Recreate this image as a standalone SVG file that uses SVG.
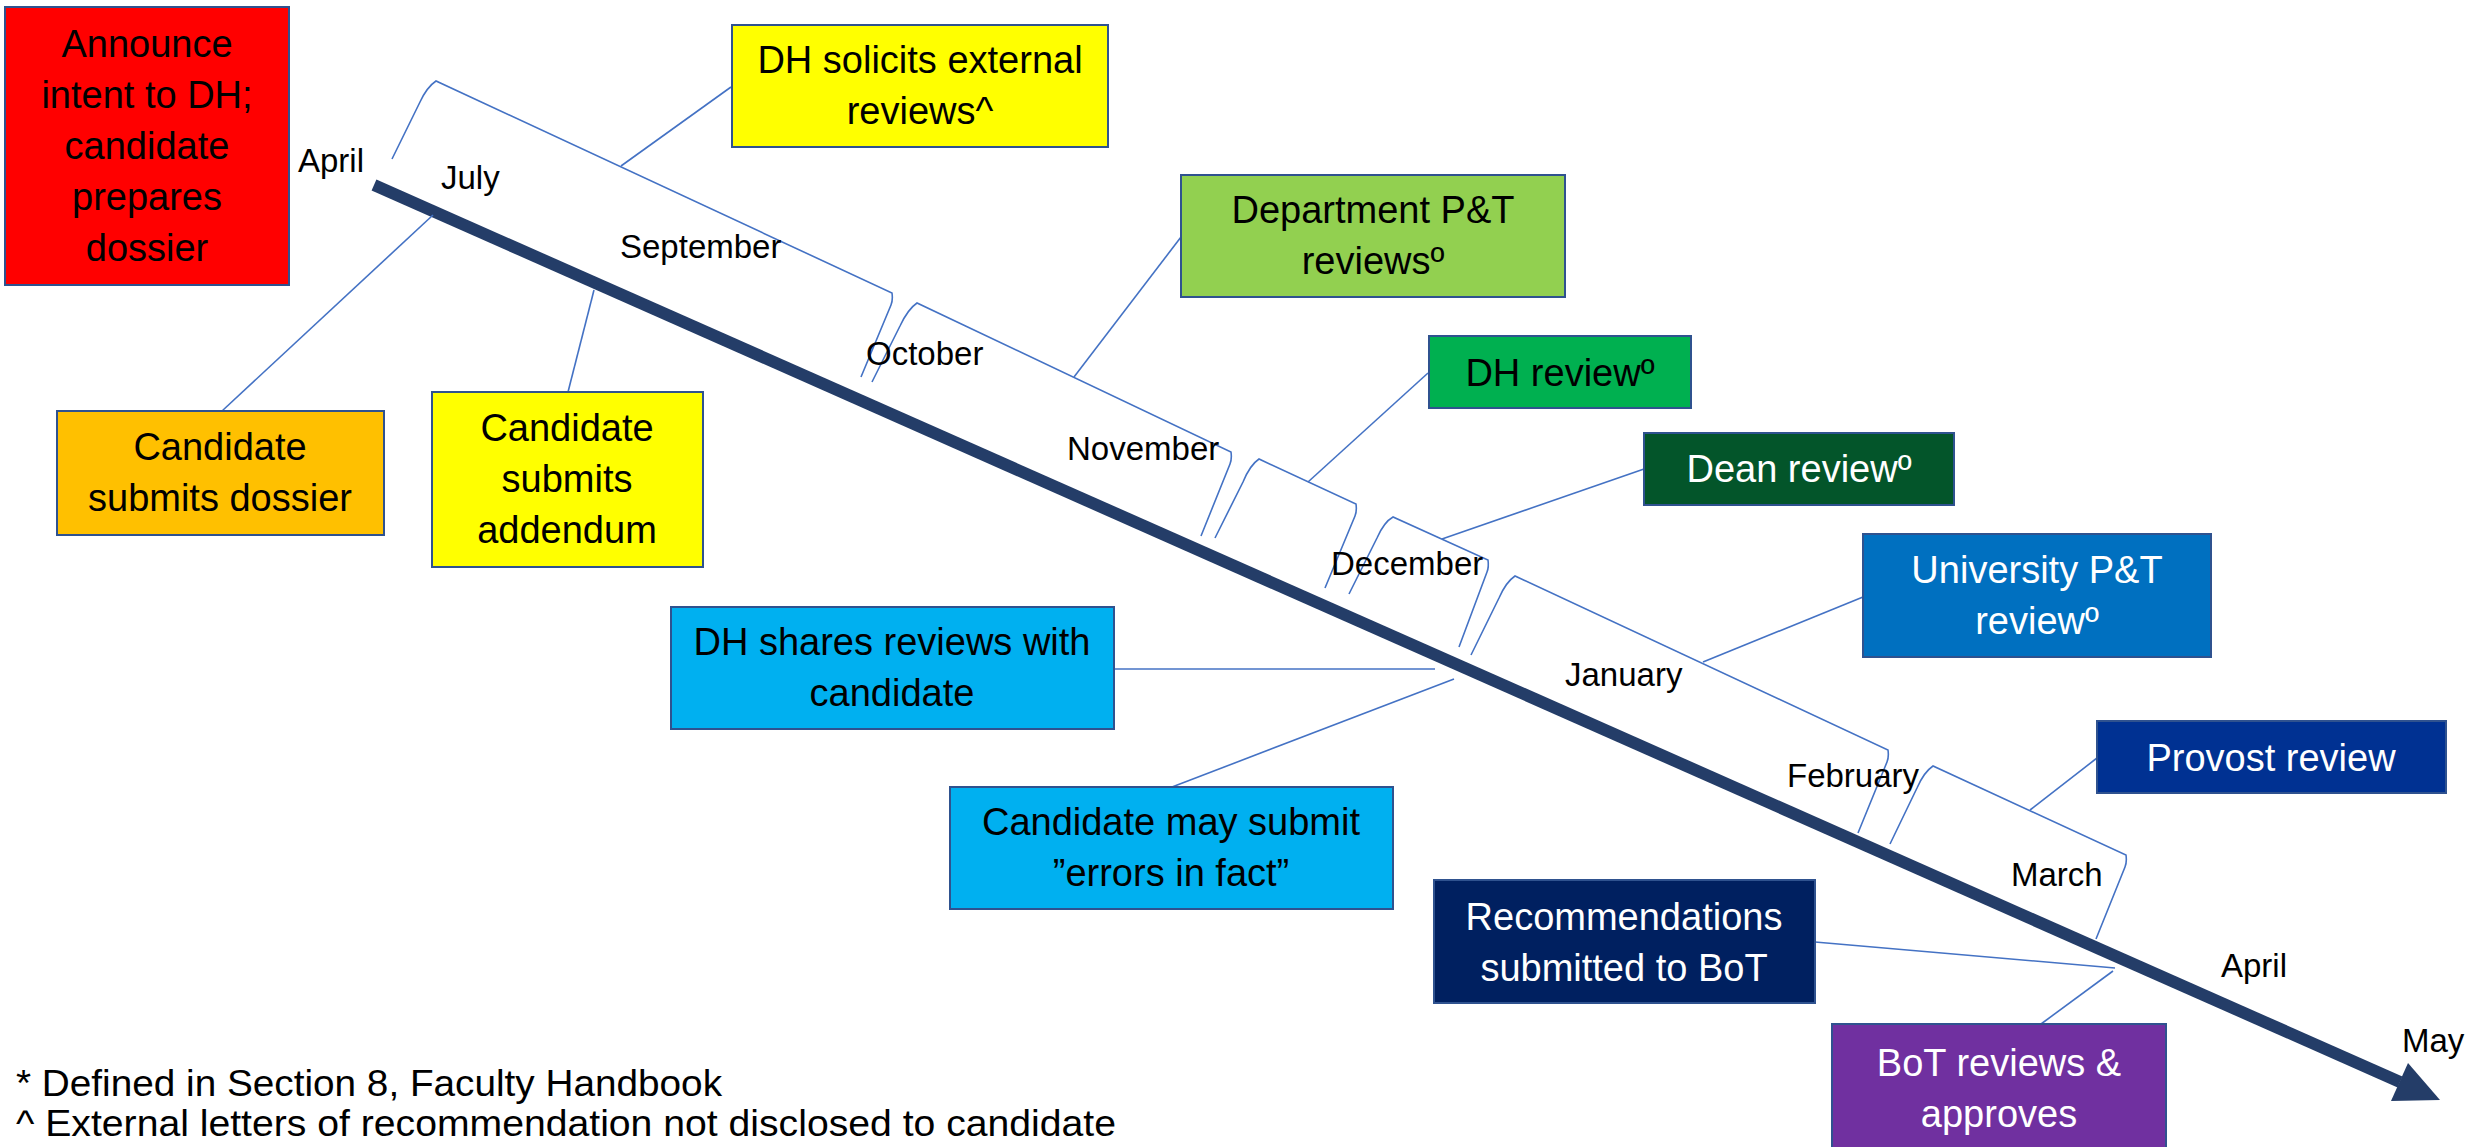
<svg xmlns="http://www.w3.org/2000/svg" width="2489" height="1147" viewBox="0 0 2489 1147">
<style>
  .box { stroke: #2F528F; stroke-width: 2; }
  .t { font-family: "Liberation Sans", Arial, sans-serif; font-size: 38px; text-anchor: middle; }
  .k { fill: #000000; }
  .w { fill: #FFFFFF; }
  .m { font-family: "Liberation Sans", Arial, sans-serif; font-size: 33px; fill: #000000; }
  .fn { font-family: "Liberation Sans", Arial, sans-serif; font-size: 37px; fill: #000000; }
  .c { fill: none; stroke: #4472C4; stroke-width: 1.6; }
</style>
<rect width="2489" height="1147" fill="#FFFFFF"/>

<g id="timeline">
  <line x1="374" y1="185" x2="2400" y2="1082" stroke="#243D68" stroke-width="12"/>
  <polygon points="2440,1100 2391,1101 2408,1063" fill="#243D68"/>
</g>

<g id="brackets" class="c">
  <path d="M392,159 L420,102 Q427,87 436,81 L892,293 Q893,300 891,305 L861,377"/>
  <path d="M872,382 L900,326 Q908,309 917,303 L1231,452 Q1232,459 1230,464 L1201,536"/>
  <path d="M1215,538 L1243,482 Q1250,465 1259,459 L1356,504 Q1357,511 1355,516 L1325,588"/>
  <path d="M1349,594 L1377,538 Q1384,522 1393,517 L1488,560 Q1489,567 1487,572 L1459,647"/>
  <path d="M1471,655 L1499,598 Q1506,582 1515,576 L1888,750 Q1889,757 1887,762 L1858,833"/>
  <path d="M1890,844 L1917,788 Q1924,772 1933,766 L2126,855 Q2127,862 2125,867 L2096,939"/>
</g>

<g id="connectors" class="c">
  <line x1="621" y1="166" x2="731" y2="87"/>
  <line x1="433" y1="215" x2="222" y2="411"/>
  <line x1="594" y1="290" x2="568" y2="392"/>
  <line x1="1074" y1="377" x2="1181" y2="237"/>
  <line x1="1308" y1="482" x2="1428" y2="373"/>
  <line x1="1442" y1="539" x2="1644" y2="469"/>
  <line x1="1703" y1="662" x2="1863" y2="597"/>
  <line x1="2030" y1="810" x2="2097" y2="758"/>
  <line x1="1114" y1="669" x2="1435" y2="669"/>
  <line x1="1172" y1="787" x2="1454" y2="679"/>
  <line x1="1815" y1="942" x2="2115" y2="968"/>
  <line x1="2113" y1="971" x2="2041" y2="1024"/>
</g>

<g id="months">
  <text class="m" x="298" y="172">April</text>
  <text class="m" x="441" y="189">July</text>
  <text class="m" x="620" y="258">September</text>
  <text class="m" x="866" y="365">October</text>
  <text class="m" x="1067" y="460">November</text>
  <text class="m" x="1331" y="575">December</text>
  <text class="m" x="1565" y="686">January</text>
  <text class="m" x="1787" y="787">February</text>
  <text class="m" x="2011" y="886">March</text>
  <text class="m" x="2221" y="977">April</text>
  <text class="m" x="2402" y="1052">May</text>
</g>

<g id="announce">
  <rect class="box" x="5" y="7" width="284" height="278" fill="#FF0000"/>
  <text class="t k" x="147" y="57">Announce</text>
  <text class="t k" x="147" y="108">intent to DH;</text>
  <text class="t k" x="147" y="159">candidate</text>
  <text class="t k" x="147" y="210">prepares</text>
  <text class="t k" x="147" y="261">dossier</text>
</g>

<g id="dh-solicits">
  <rect class="box" x="732" y="25" width="376" height="122" fill="#FFFF00"/>
  <text class="t k" x="920" y="73">DH solicits external</text>
  <text class="t k" x="920" y="124">reviews^</text>
</g>

<g id="dept-pt">
  <rect class="box" x="1181" y="175" width="384" height="122" fill="#92D050"/>
  <text class="t k" x="1373" y="223">Department P&amp;T</text>
  <text class="t k" x="1373" y="274">reviewsº</text>
</g>

<g id="dh-review">
  <rect class="box" x="1429" y="336" width="262" height="72" fill="#00B050"/>
  <text class="t k" x="1560" y="386">DH reviewº</text>
</g>

<g id="dean-review">
  <rect class="box" x="1644" y="433" width="310" height="72" fill="#03552A"/>
  <text class="t w" x="1799" y="482">Dean reviewº</text>
</g>

<g id="univ-pt">
  <rect class="box" x="1863" y="534" width="348" height="123" fill="#0070C0"/>
  <text class="t w" x="2037" y="583">University P&amp;T</text>
  <text class="t w" x="2037" y="634">reviewº</text>
</g>

<g id="provost">
  <rect class="box" x="2097" y="721" width="349" height="72" fill="#003192"/>
  <text class="t w" x="2271" y="771">Provost review</text>
</g>

<g id="recommendations">
  <rect class="box" x="1434" y="880" width="381" height="123" fill="#002060"/>
  <text class="t w" x="1624" y="930">Recommendations</text>
  <text class="t w" x="1624" y="981">submitted to BoT</text>
</g>

<g id="bot">
  <rect class="box" x="1832" y="1024" width="334" height="130" fill="#7030A0"/>
  <text class="t w" x="1999" y="1076">BoT reviews &amp;</text>
  <text class="t w" x="1999" y="1127">approves</text>
</g>

<g id="errors-in-fact">
  <rect class="box" x="950" y="787" width="443" height="122" fill="#00B0F0"/>
  <text class="t k" x="1171" y="835">Candidate may submit</text>
  <text class="t k" x="1171" y="886">”errors in fact”</text>
</g>

<g id="dh-shares">
  <rect class="box" x="671" y="607" width="443" height="122" fill="#00B0F0"/>
  <text class="t k" x="892" y="655">DH shares reviews with</text>
  <text class="t k" x="892" y="706">candidate</text>
</g>

<g id="submits-dossier">
  <rect class="box" x="57" y="411" width="327" height="124" fill="#FFC000"/>
  <text class="t k" x="220" y="460">Candidate</text>
  <text class="t k" x="220" y="511">submits dossier</text>
</g>

<g id="submits-addendum">
  <rect class="box" x="432" y="392" width="271" height="175" fill="#FFFF00"/>
  <text class="t k" x="567" y="441">Candidate</text>
  <text class="t k" x="567" y="492">submits</text>
  <text class="t k" x="567" y="543">addendum</text>
</g>

<g id="footnotes">
  <text class="fn" x="16" y="1096" textLength="706" lengthAdjust="spacingAndGlyphs">* Defined in Section 8, Faculty Handbook</text>
  <text class="fn" x="16" y="1136" textLength="1100" lengthAdjust="spacingAndGlyphs">^ External letters of recommendation not disclosed to candidate</text>
</g>
</svg>
